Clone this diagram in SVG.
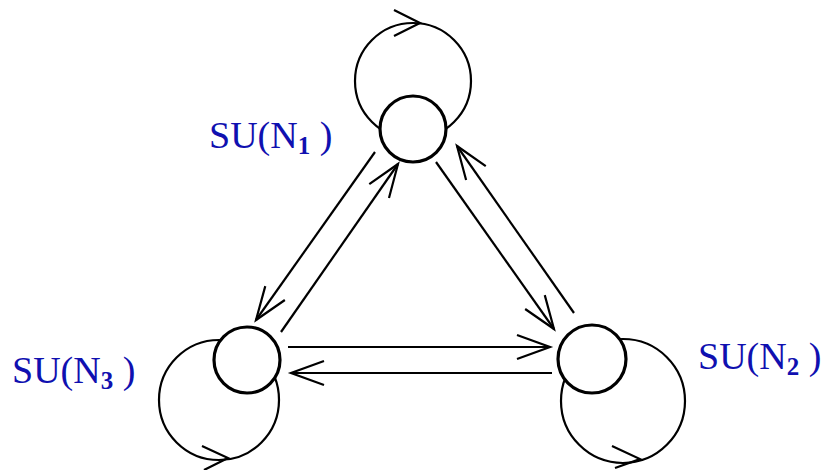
<svg xmlns="http://www.w3.org/2000/svg" width="823" height="470" viewBox="0 0 823 470">
<style>
.ln{fill:none;stroke:#000;stroke-width:2.2}
.node{fill:#fff;stroke:#000;stroke-width:3.2}
.lbl{font-family:"Liberation Serif","Times New Roman",serif;font-size:38px;fill:#1010b0}
.sub{font-size:25px;font-weight:bold}
</style>
<defs>
<marker id="ah" markerUnits="userSpaceOnUse" viewBox="-36 -14 40 28" refX="0" refY="0" markerWidth="40" markerHeight="28" orient="auto">
<path d="M-33,-12 L0,0 L-33,12" fill="none" stroke="#000" stroke-width="2.2"/>
</marker>
</defs>
<rect width="823" height="470" fill="#fff"/>
<g id="connectors">
<line class="ln" x1="375" y1="152" x2="256" y2="320" marker-end="url(#ah)"/>
<line class="ln" x1="281" y1="332" x2="398" y2="164" marker-end="url(#ah)"/>
<line class="ln" x1="436" y1="162" x2="554" y2="329" marker-end="url(#ah)"/>
<line class="ln" x1="574" y1="313" x2="457" y2="146" marker-end="url(#ah)"/>
<line class="ln" x1="288" y1="347" x2="550" y2="347" marker-end="url(#ah)"/>
<line class="ln" x1="552" y1="373" x2="291" y2="373" marker-end="url(#ah)"/>
<g id="loop1"><circle class="ln" cx="413" cy="81" r="58"/><path class="ln" d="M394,10 L420,23 L394,36"/></g>
<g id="loop3"><circle class="ln" cx="219" cy="400" r="60"/><path class="ln" d="M202,446 L228,458 L204,470"/></g>
<g id="loop2"><circle class="ln" cx="623" cy="401" r="62"/><path class="ln" d="M612,446 L640,459 L615,468"/></g>
</g>
<g id="n1"><circle class="node" cx="413" cy="129" r="33"/><text class="lbl" x="209" y="148">SU(N<tspan class="sub" dy="6">1</tspan><tspan dy="-6"> )</tspan></text></g>
<g id="n3"><circle class="node" cx="247" cy="360" r="33"/><text class="lbl" x="12" y="383">SU(N<tspan class="sub" dy="6">3</tspan><tspan dy="-6"> )</tspan></text></g>
<g id="n2"><circle class="node" cx="592" cy="359" r="34"/><text class="lbl" x="698" y="369">SU(N<tspan class="sub" dy="6">2</tspan><tspan dy="-6"> )</tspan></text></g>
</svg>
